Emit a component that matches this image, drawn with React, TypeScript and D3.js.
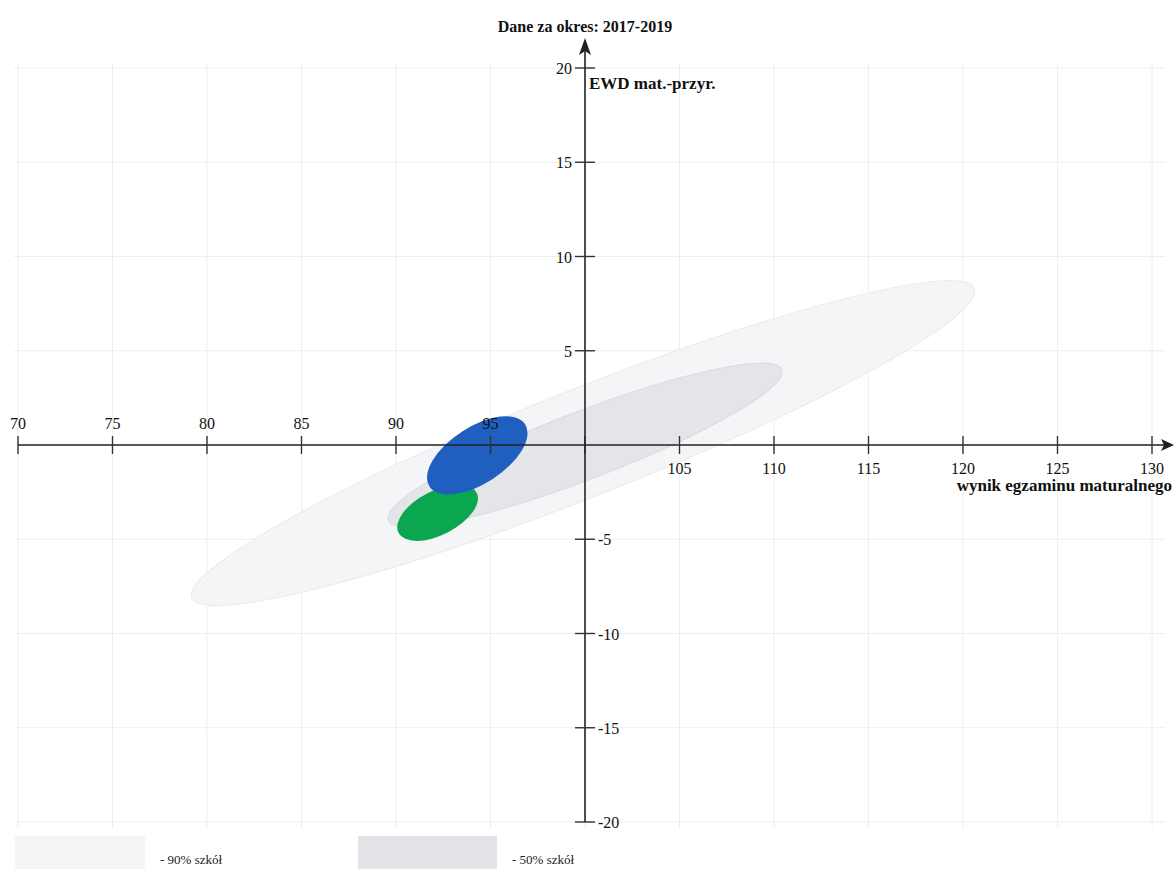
import React from "react";
import * as d3 from "d3";

const title = "Dane za okres: 2017-2019";
const xTitle = "wynik egzaminu maturalnego";
const yTitle = "EWD mat.-przyr.";
const xTicks = [70, 75, 80, 85, 90, 95, 100, 105, 110, 115, 120, 125, 130];
const yTicks = [-20, -15, -10, -5, 0, 5, 10, 15, 20];

// Ellipses: center (x, y), one major-axis tip (x, y), half-width in EWD units
const ellipseNames = ["90% szkół", "50% szkół", "szkoła (mat)", "szkoła (przyr)"];
const ellipseCx = [99.9, 100.0, 92.2, 94.3];
const ellipseCy = [0.1, 0.0, -3.6, -0.55];
const ellipseTipX = [120.6, 110.4, 94.27, 96.83];
const ellipseTipY = [8.3, 4.0, -2.54, 1.1];
const ellipseHalfWidth = [2.85, 1.8, 1.17, 1.5];
const ellipseColors = ["#f4f5f7", "#e3e5e8", "#0ba650", "#1f5fc0"];
const ellipseStrokes = ["#eaecef", "#dadde1", "none", "none"];

const legendLabels = ["- 90% szkół", "- 50% szkół"];
const legendColors = ["#f4f4f5", "#e3e4e7"];

const W = 1174;
const H = 869;
const FONT = "'Liberation Serif', 'DejaVu Serif', serif";

export default function App() {
  const x = d3.scaleLinear().domain([70, 130]).range([18, 1152]);
  const y = d3.scaleLinear().domain([-20, 20]).range([822, 68]);
  const x0 = x(100);
  const y0 = y(0);
  const unitY = y(0) - y(1);

  const order = [0, 1, 2, 3];

  return (
    <div style={{ position: "absolute", left: 0, top: 0 }}>
      <svg width={W} height={H} style={{ display: "block", background: "#fff" }}>
        {/* grid */}
        <g stroke="#eeeeee" strokeWidth={1}>
          {xTicks.map((t) => (
            <line key={"gx" + t} x1={x(t)} x2={x(t)} y1={64} y2={828} />
          ))}
          {yTicks.map((t) => (
            <line key={"gy" + t} x1={14} x2={1165} y1={y(t)} y2={y(t)} />
          ))}
        </g>

        {/* ellipses */}
        {order.map((i) => {
          const cx = x(ellipseCx[i]);
          const cy = y(ellipseCy[i]);
          const tx = x(ellipseTipX[i]);
          const ty = y(ellipseTipY[i]);
          const a = Math.hypot(tx - cx, ty - cy);
          const ang = (Math.atan2(ty - cy, tx - cx) * 180) / Math.PI;
          const b = ellipseHalfWidth[i] * unitY;
          return (
            <ellipse
              key={ellipseNames[i]}
              cx={cx}
              cy={cy}
              rx={a}
              ry={b}
              transform={`rotate(${ang} ${cx} ${cy})`}
              fill={ellipseColors[i]}
              stroke={ellipseStrokes[i]}
              strokeWidth={1.2}
            />
          );
        })}

        {/* x axis */}
        <line x1={x(70)} x2={1168} y1={y0} y2={y0} stroke="#222" strokeWidth={1.6} />
        <path d={`M1174,${y0} L1161,${y0 - 6} L1164,${y0} L1161,${y0 + 6} Z`} fill="#222" />
        {xTicks.map((t) => (
          <line key={"xt" + t} x1={x(t)} x2={x(t)} y1={y0 - 9} y2={y0 + 9} stroke="#333" strokeWidth={1.4} />
        ))}
        {xTicks
          .filter((t) => t !== 100)
          .map((t) => (
            <text
              key={"xl" + t}
              x={x(t)}
              y={t < 100 ? y0 - 16 : y0 + 29}
              textAnchor="middle"
              fontFamily={FONT}
              fontSize={16}
              fill="#111"
            >
              {t}
            </text>
          ))}
        <text x={1172} y={y0 + 46} textAnchor="end" fontFamily={FONT} fontSize={17} fontWeight="bold" fill="#111">
          {xTitle}
        </text>

        {/* y axis */}
        <line x1={x0} x2={x0} y1={y(-20)} y2={48} stroke="#222" strokeWidth={1.6} />
        <path d={`M${x0},38 L${x0 - 6},55 L${x0},51 L${x0 + 6},55 Z`} fill="#222" />
        {yTicks
          .filter((t) => t !== 0)
          .map((t) => (
            <line key={"yt" + t} x1={x0 - 10} x2={x0 + 10} y1={y(t)} y2={y(t)} stroke="#333" strokeWidth={1.4} />
          ))}
        {yTicks
          .filter((t) => t !== 0)
          .map((t) => (
            <text
              key={"yl" + t}
              x={t > 0 ? x0 - 13 : x0 + 13}
              y={y(t) + 6}
              textAnchor={t > 0 ? "end" : "start"}
              fontFamily={FONT}
              fontSize={16}
              fill="#111"
            >
              {t}
            </text>
          ))}
        <text x={x0 + 4} y={89} fontFamily={FONT} fontSize={17} fontWeight="bold" fill="#111">
          {yTitle}
        </text>

        {/* title */}
        <text x={x0} y={32} textAnchor="middle" fontFamily={FONT} fontSize={16} fontWeight="bold" fill="#111">
          {title}
        </text>

        {/* legend */}
        <rect x={15} y={836} width={130} height={33} fill={legendColors[0]} />
        <text x={160} y={864} fontFamily={FONT} fontSize={13} fill="#222">
          {legendLabels[0]}
        </text>
        <rect x={358} y={836} width={139} height={33} fill={legendColors[1]} />
        <text x={512} y={864} fontFamily={FONT} fontSize={13} fill="#222">
          {legendLabels[1]}
        </text>
      </svg>
    </div>
  );
}
